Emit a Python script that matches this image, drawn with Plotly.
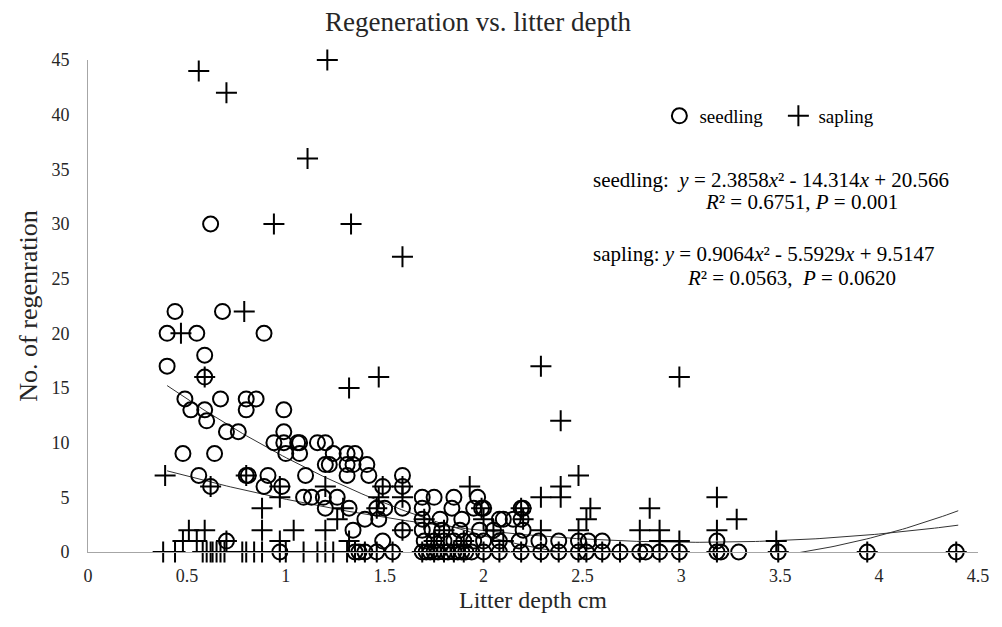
import plotly.graph_objects as go
import numpy as np

# Seedling observations (litter depth cm, count)
seed_x = [0.62,
          0.44, 0.68,
          0.40, 0.55, 0.89,
          0.40, 0.59, 0.59,
          0.49, 0.67, 0.80, 0.85,
          0.52, 0.59, 0.80, 0.99,
          0.60,
          0.70, 0.76, 0.99,
          0.94, 0.99, 1.06, 1.07, 1.16, 1.20,
          0.48, 0.64, 1.00, 1.07, 1.24, 1.31, 1.35,
          1.20, 1.22, 1.31, 1.34, 1.41,
          0.56, 0.80, 0.81, 0.91, 1.10, 1.31, 1.42, 1.59,
          0.62, 0.89, 0.98, 1.49, 1.59,
          1.09, 1.13, 1.19, 1.26, 1.69, 1.75, 1.85, 1.97,
          1.20, 1.32, 1.46, 1.50, 1.59, 1.69, 1.84, 1.95, 1.99, 2.00, 2.19, 2.20,
          1.40, 1.47, 1.69, 1.78, 1.89, 2.08, 2.10, 2.15, 2.19,
          1.34, 1.59, 1.69, 1.74, 1.79, 1.88, 1.98, 2.05, 2.20,
          0.70, 1.49, 1.70, 1.75, 1.80, 1.85, 1.90, 1.95, 2.00, 2.08, 2.18, 2.28, 2.38, 2.48, 2.53, 2.60, 3.18,
          0.97, 1.35, 1.37, 1.40, 1.46, 1.54, 1.69, 1.71, 1.73, 1.75, 1.77, 1.80, 1.82, 1.85, 1.87, 1.89,
          1.91, 1.94, 2.00, 2.08, 2.19, 2.29, 2.38, 2.48, 2.52, 2.60, 2.69, 2.79, 2.82, 2.89, 2.99, 3.18,
          3.20, 3.29, 3.49, 3.94, 4.39]
seed_y = [30,
          22, 22,
          20, 20, 20,
          17, 18, 16,
          14, 14, 14, 14,
          13, 13, 13, 13,
          12,
          11, 11, 11,
          10, 10, 10, 10, 10, 10,
          9, 9, 9, 9, 9, 9, 9,
          8, 8, 8, 8, 8,
          7, 7, 7, 7, 7, 7, 7, 7,
          6, 6, 6, 6, 6,
          5, 5, 5, 5, 5, 5, 5, 5,
          4, 4, 4, 4, 4, 4, 4, 4, 4, 4, 4, 4,
          3, 3, 3, 3, 3, 3, 3, 3, 3,
          2, 2, 2, 2, 2, 2, 2, 2, 2,
          1, 1, 1, 1, 1, 1, 1, 1, 1, 1, 1, 1, 1, 1, 1, 1, 1,
          0, 0, 0, 0, 0, 0, 0, 0, 0, 0, 0, 0, 0, 0, 0, 0,
          0, 0, 0, 0, 0, 0, 0, 0, 0, 0, 0, 0, 0, 0, 0, 0,
          0, 0, 0, 0, 0]

# Sapling observations
sap_x = [0.56, 0.70, 1.21, 1.11, 0.94, 1.33, 1.59, 0.79, 0.47, 0.59, 1.32, 1.47, 2.29, 2.39, 2.99,
         0.39, 0.62, 0.80, 0.97, 1.20, 1.49, 1.59, 1.93, 2.39, 2.48,
         0.97, 1.47, 1.59, 2.29, 2.39, 3.18,
         0.88, 1.29, 1.46, 1.99, 2.19, 2.54, 2.84,
         1.26, 1.70, 2.00, 2.20, 2.52, 3.28,
         0.51, 0.59, 0.88, 1.04, 1.20, 1.59, 1.80, 2.05, 2.29, 2.48, 2.79, 2.89, 3.18,
         0.48, 0.55, 0.70, 0.97, 1.32, 1.75, 1.90, 2.10, 2.89, 2.99, 3.48,
         0.38, 0.44, 0.58, 0.60, 0.62, 0.63, 0.65, 0.67, 0.69, 0.78, 0.80, 0.84, 0.88, 0.97, 1.00,
         1.09, 1.16, 1.20, 1.24, 1.31, 1.35, 1.40, 1.46, 1.54, 1.69, 1.75, 1.80, 1.85, 1.90, 2.00,
         2.08, 2.19, 2.29, 2.38, 2.48, 2.52, 2.60, 2.69, 2.79, 2.89, 2.99, 3.18, 3.49, 3.94, 4.39]
sap_y = [44, 42, 45, 36, 30, 30, 27, 22, 20, 16, 15, 16, 17, 12, 16,
         7, 6, 7, 6, 6, 6, 6, 6, 6, 7,
         5, 5, 5, 5, 5, 5,
         4, 4, 4, 4, 4, 4, 4,
         3, 3, 3, 3, 3, 3,
         2, 2, 2, 2, 2, 2, 2, 2, 2, 2, 2, 2, 2,
         1, 1, 1, 1, 1, 1, 1, 1, 1, 1, 1,
         0, 0, 0, 0, 0, 0, 0, 0, 0, 0, 0, 0, 0, 0, 0,
         0, 0, 0, 0, 0, 0, 0, 0, 0, 0, 0, 0, 0, 0, 0,
         0, 0, 0, 0, 0, 0, 0, 0, 0, 0, 0, 0, 0, 0, 0]

# Printed quadratic trend coefficients (a, b, c) and fitted range
seed_coef = [2.3858, -14.314, 20.566]
sap_coef = [0.9064, -5.5929, 9.5147]
trend_range = [0.4, 4.4]

x_ticks = [0, 0.5, 1, 1.5, 2, 2.5, 3, 3.5, 4, 4.5]
y_ticks = [0, 5, 10, 15, 20, 25, 30, 35, 40, 45]

FONT = "Liberation Serif, Times New Roman, serif"
TXT = "#262626"
W, H = 994, 619

tx = np.linspace(trend_range[0], trend_range[1], 200)
seed_trend = np.polyval(seed_coef, tx)
sap_trend = np.polyval(sap_coef, tx)

fig = go.Figure()
fig.add_trace(go.Scatter(x=tx, y=seed_trend, mode="lines", line=dict(color="#333333", width=1),
                         showlegend=False, hoverinfo="skip"))
fig.add_trace(go.Scatter(x=tx, y=sap_trend, mode="lines", line=dict(color="#333333", width=1),
                         showlegend=False, hoverinfo="skip"))
fig.add_trace(go.Scatter(x=seed_x, y=seed_y, mode="markers", name="seedling",
                         marker=dict(symbol="circle-open", size=15, color="black",
                                     line=dict(width=2, color="black")),
                         cliponaxis=False))
fig.add_trace(go.Scatter(x=sap_x, y=sap_y, mode="markers", name="sapling",
                         marker=dict(symbol="cross-thin-open", size=15, color="black",
                                     line=dict(width=2, color="black")),
                         cliponaxis=False))

ann_font = dict(family=FONT, size=21, color="black")
fig.add_annotation(x=2.545, y=34.0, xref="x", yref="y", xanchor="left", yanchor="middle", showarrow=False,
                   text="seedling:  <i>y</i> = 2.3858<i>x</i>² - 14.314<i>x</i> + 20.566", font=ann_font)
fig.add_annotation(x=3.11, y=32.0, xref="x", yref="y", xanchor="left", yanchor="middle", showarrow=False,
                   text="<i>R</i>² = 0.6751, <i>P</i> = 0.001", font=ann_font)
fig.add_annotation(x=2.545, y=27.3, xref="x", yref="y", xanchor="left", yanchor="middle", showarrow=False,
                   text="sapling: <i>y</i> = 0.9064<i>x</i>² - 5.5929<i>x</i> + 9.5147", font=ann_font)
fig.add_annotation(x=3.02, y=25.1, xref="x", yref="y", xanchor="left", yanchor="middle", showarrow=False,
                   text="<i>R</i>² = 0.0563,  <i>P</i> = 0.0620", font=ann_font)

fig.update_layout(
    width=W, height=H,
    margin=dict(l=80, r=24, t=52, b=75),
    paper_bgcolor="white", plot_bgcolor="white",
    font=dict(family=FONT, size=18, color=TXT),
    title=dict(text="Regeneration vs. litter depth", x=470 / W, xanchor="center", y=1 - 4 / H, yanchor="top",
               font=dict(family=FONT, size=27, color=TXT)),
    legend=dict(orientation="h", x=0.642, y=(552 - 116) / 492, xanchor="left", yanchor="middle",
                font=dict(family=FONT, size=19, color="black"), bgcolor="rgba(0,0,0,0)",
                itemwidth=30, tracegroupgap=0, entrywidth=74, entrywidthmode="pixels"),
    xaxis=dict(range=[0, 4.5], tickvals=x_ticks, ticktext=[f"{v:g}" for v in x_ticks],
               showgrid=False, zeroline=False, showline=True, linecolor="#a6a6a6", linewidth=1,
               ticks="", ticklabelstandoff=7, automargin=False,
               title=dict(text="Litter depth cm", font=dict(family=FONT, size=24, color=TXT), standoff=6),
               tickfont=dict(family=FONT, size=18, color=TXT)),
    yaxis=dict(range=[0, 45], tickvals=y_ticks, ticktext=[str(v) for v in y_ticks],
               showgrid=False, zeroline=False, showline=True, linecolor="#a6a6a6", linewidth=1,
               ticks="", ticklabelstandoff=14, automargin=False,
               title=dict(text="No. of regenration", font=dict(family=FONT, size=26, color=TXT), standoff=6),
               tickfont=dict(family=FONT, size=18, color=TXT)),
)

fig.write_html("out.html")
